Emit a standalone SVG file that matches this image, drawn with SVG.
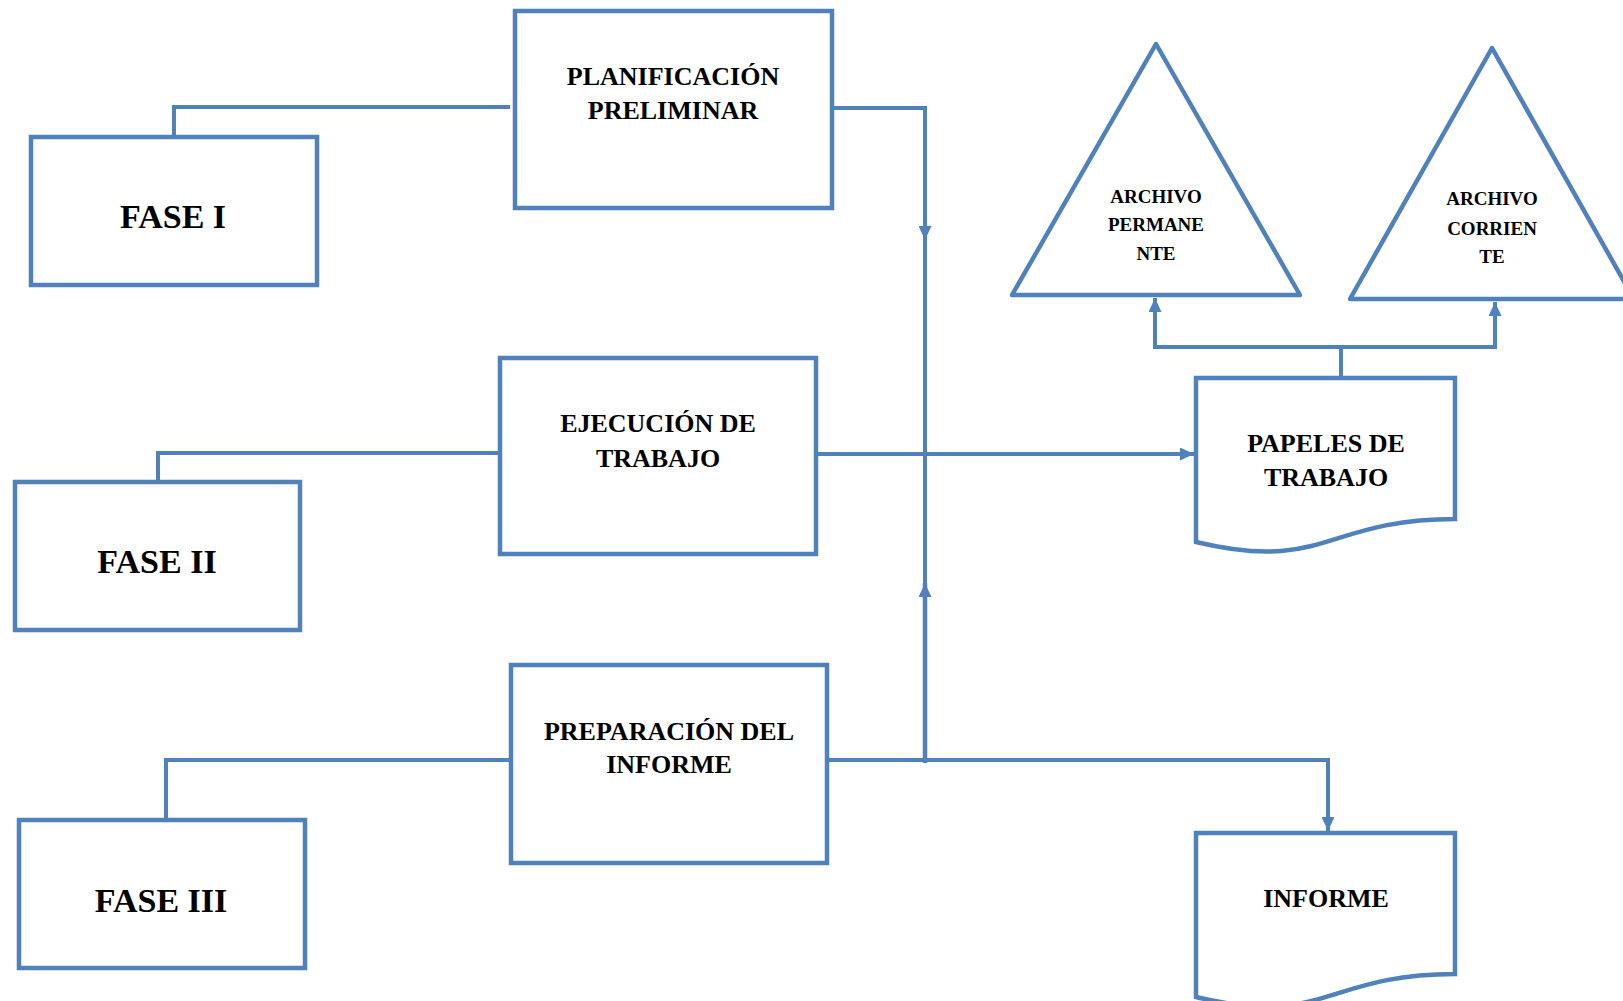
<svg xmlns="http://www.w3.org/2000/svg" width="1623" height="1001" viewBox="0 0 1623 1001">
<style>
.box{fill:#fff;stroke:#4F81BD;stroke-width:4.5}
.ln{fill:none;stroke:#4F81BD;stroke-width:4}
.t{font-family:"Liberation Serif","Times New Roman",serif;font-weight:bold;fill:#000;text-anchor:middle}
.m{font-size:26px}
.f{font-size:34px}
.s{font-size:19px}
</style>
<defs>
<marker id="ah" markerUnits="userSpaceOnUse" markerWidth="15" markerHeight="13" refX="14" refY="6.5" orient="auto">
<path d="M0,0 L14,6.5 L0,13 z" fill="#4F81BD"/>
</marker>
</defs>
<rect width="1623" height="1001" fill="#fff"/>
<g id="connectors">
<path class="ln" d="M174,137 V107 H510"/>
<path class="ln" d="M158,482 V453 H499"/>
<path class="ln" d="M166,820 V760 H509"/>
<path class="ln" d="M832,108 H925 V240" marker-end="url(#ah)"/>
<path class="ln" d="M925,238 V760"/>
<path class="ln" d="M925,763 V583" marker-end="url(#ah)" style="stroke-width:4.5"/>
<path class="ln" d="M816,454 H1194" marker-end="url(#ah)"/>
<path class="ln" d="M829,760 H1328 V831" marker-end="url(#ah)"/>
<path class="ln" d="M1341,378 V347 H1155 V298" marker-end="url(#ah)"/>
<path class="ln" d="M1341,347 H1495 V302" marker-end="url(#ah)"/>
</g>
<g id="fase1">
<rect class="box" x="31" y="137" width="286" height="148"/>
<text class="t f" x="173" y="228">FASE I</text>
</g>
<g id="fase2">
<rect class="box" x="15" y="482" width="285" height="148"/>
<text class="t f" x="157" y="573">FASE II</text>
</g>
<g id="fase3">
<rect class="box" x="19" y="820" width="286" height="148"/>
<text class="t f" x="161" y="912">FASE III</text>
</g>
<g id="planificacion">
<rect class="box" x="515" y="11" width="317" height="197"/>
<text class="t m" x="673" y="85">PLANIFICACIÓN</text>
<text class="t m" x="673" y="119">PRELIMINAR</text>
</g>
<g id="ejecucion">
<rect class="box" x="500" y="358" width="316" height="196"/>
<text class="t m" x="658" y="432">EJECUCIÓN DE</text>
<text class="t m" x="658" y="467">TRABAJO</text>
</g>
<g id="preparacion">
<rect class="box" x="511" y="665" width="316" height="198"/>
<text class="t m" x="669" y="740">PREPARACIÓN DEL</text>
<text class="t m" x="669" y="773">INFORME</text>
</g>
<g id="papeles">
<path class="box" d="M1196,378 H1455 V519 C1325.5,519 1325.5,573 1196,542 Z"/>
<text class="t m" x="1326" y="452">PAPELES DE</text>
<text class="t m" x="1326" y="486">TRABAJO</text>
</g>
<g id="informe">
<path class="box" d="M1196,833 H1455 V974 C1325.5,974 1325.5,1028 1196,997 Z"/>
<text class="t m" x="1326" y="907">INFORME</text>
</g>
<g id="archivo-permanente">
<path class="box" d="M1156,44 L1300,295 L1012,295 Z" stroke-linejoin="round"/>
<text class="t s" x="1156" y="203">ARCHIVO</text>
<text class="t s" x="1156" y="231">PERMANE</text>
<text class="t s" x="1156" y="260">NTE</text>
</g>
<g id="archivo-corriente">
<path class="box" d="M1492,48 L1634,299 L1350,299 Z" stroke-linejoin="round"/>
<text class="t s" x="1492" y="205">ARCHIVO</text>
<text class="t s" x="1492" y="235">CORRIEN</text>
<text class="t s" x="1492" y="263">TE</text>
</g>
</svg>
